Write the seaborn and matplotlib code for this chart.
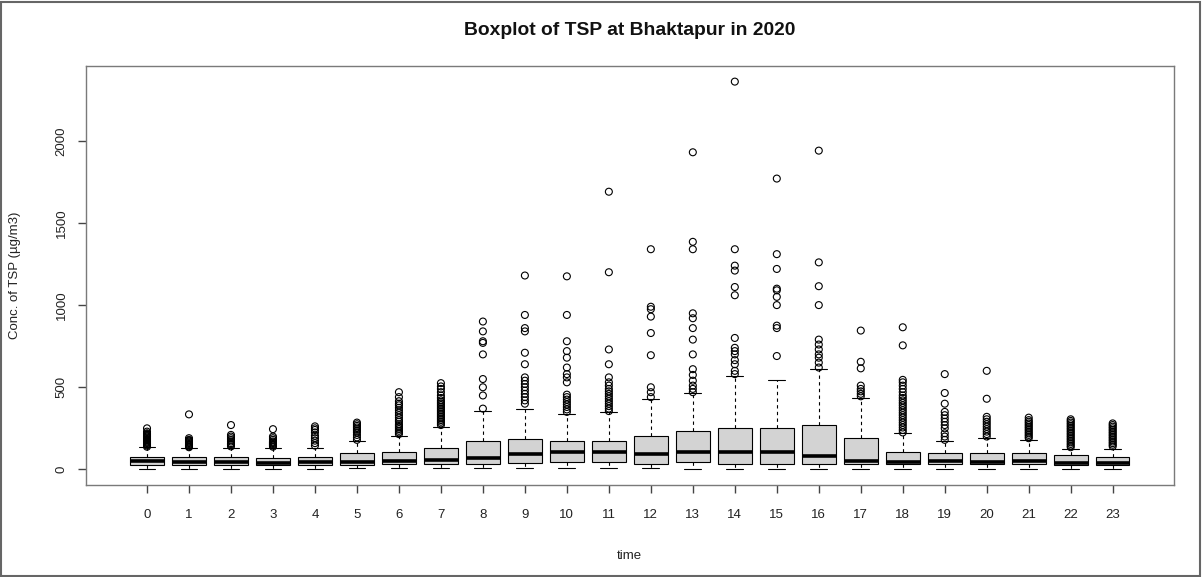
import pandas as pd
import numpy as np
import matplotlib.pyplot as plt
import seaborn as sns
from matplotlib.patches import Rectangle

# hourly TSP summary
hours = [str(h) for h in range(24)]
whisker_low = [5, 5, 5, 5, 5, 8, 8, 8, 8, 8, 8, 8, 8, 3, 5, 5, 5, 5, 5, 5, 5, 5, 3, 3]
q1 = [25, 24, 24, 24, 24, 26, 30, 30, 30, 40, 43, 47, 30, 47, 36, 36, 30, 30, 30, 30, 30, 30, 26, 26]
median = [50, 45, 45, 42, 45, 45, 53, 60, 71, 91, 103, 103, 91, 108, 103, 103, 83, 51, 47, 51, 47, 51, 41, 41]
q3 = [77, 74, 74, 72, 75, 97, 108, 130, 172, 185, 172, 172, 205, 233, 254, 254, 270, 193, 108, 97, 97, 97, 87, 77]
whisker_high = [134, 130, 132, 130, 132, 172, 205, 260, 357, 365, 337, 351, 426, 462, 570, 547, 610, 436, 219, 172, 193, 182, 124, 124]

outliers = [
    [138, 145, 150, 155, 160, 165, 170, 175, 180, 185, 190, 195, 200, 205, 210, 215, 220, 230, 250],
    [135, 140, 145, 150, 155, 160, 165, 170, 175, 180, 190, 335],
    [140, 150, 155, 160, 170, 180, 190, 200, 210, 270],
    [138, 145, 150, 155, 160, 165, 170, 180, 190, 200, 245],
    [145, 160, 175, 190, 205, 225, 240, 250, 262],
    [180, 195, 210, 225, 235, 245, 255, 265, 275, 285],
    [215, 225, 235, 245, 255, 265, 275, 290, 300, 315, 330, 345, 360, 375, 390, 400, 415, 440, 470],
    [270, 280, 290, 300, 310, 320, 330, 340, 350, 360, 370, 380, 390, 400, 410, 420, 435, 450, 470, 490, 505, 525],
    [370, 450, 500, 550, 700, 770, 780, 840, 900],
    [400, 420, 440, 460, 480, 500, 520, 540, 560, 640, 710, 840, 860, 940, 1180],
    [350, 365, 380, 395, 410, 425, 440, 455, 530, 560, 580, 620, 680, 720, 780, 940, 1175],
    [355, 370, 385, 400, 415, 430, 445, 460, 475, 490, 510, 530, 560, 640, 730, 1200, 1690],
    [440, 470, 500, 695, 830, 930, 975, 990, 1340],
    [470, 490, 510, 540, 575, 610, 700, 790, 860, 920, 950, 1340, 1385, 1930],
    [580, 600, 640, 665, 700, 720, 740, 800, 1060, 1110, 1210, 1240, 1340, 2360],
    [690, 860, 875, 1000, 1050, 1090, 1100, 1220, 1310, 1770],
    [620, 650, 680, 700, 730, 760, 790, 1000, 1115, 1260, 1940],
    [445, 460, 475, 490, 510, 615, 655, 845],
    [225, 240, 255, 270, 285, 300, 315, 330, 345, 360, 375, 390, 405, 420, 435, 450, 470, 490, 510, 530, 545, 755, 865],
    [180, 200, 220, 250, 270, 290, 310, 330, 350, 400, 465, 580],
    [200, 215, 230, 245, 260, 275, 290, 305, 320, 430, 600],
    [190, 200, 210, 220, 230, 240, 250, 260, 270, 280, 290, 300, 315],
    [135, 145, 155, 165, 175, 185, 195, 205, 215, 225, 235, 245, 255, 265, 275, 285, 295, 305],
    [140, 150, 160, 170, 180, 190, 200, 210, 220, 230, 240, 250, 260, 270, 280],
]

# five points per hour: with whis=(0, 100) the box and whiskers land exactly on them
box_rows = []
for i, h in enumerate(hours):
    for v in (whisker_low[i], q1[i], median[i], q3[i], whisker_high[i]):
        box_rows.append({'time': h, 'conc': v})
box_df = pd.DataFrame(box_rows)

out_df = pd.DataFrame([{'time': h, 'conc': v} for h, vals in zip(hours, outliers) for v in vals])

sns.set_style('ticks')
plt.rcParams['font.family'] = ['Liberation Sans', 'DejaVu Sans']

fig = plt.figure(figsize=(12.02, 5.77), dpi=100)
ax = fig.add_axes([0.0713, 0.1594, 0.9054, 0.7262])

sns.boxplot(data=box_df, x='time', y='conc', order=hours, whis=(0, 100),
            width=0.8, color='#d3d3d3', saturation=1, linecolor='black',
            linewidth=0.8, showfliers=False,
            medianprops={'linewidth': 2.6, 'color': 'black'},
            whiskerprops={'linestyle': (0, (3, 3))},
            ax=ax)
sns.stripplot(data=out_df, x='time', y='conc', order=hours, jitter=False,
              size=5, facecolors='none', edgecolor='black', linewidth=0.8,
              ax=ax)

ax.set_xlim(-1.46, 24.46)
ax.set_ylim(-95, 2455)
ax.set_yticks([0, 500, 1000, 1500, 2000])
ax.set_yticklabels(['0', '500', '1000', '1500', '2000'], rotation=90, va='center')

for s in ax.spines.values():
    s.set_visible(True)
    s.set_color('#7a7a7a')
    s.set_linewidth(1.0)
ax.xaxis.set_tick_params(which='major', bottom=True, length=6, width=1.0,
                         color='#444444', pad=11)
ax.yaxis.set_tick_params(which='major', left=True, length=6, width=1.0,
                         color='#444444', pad=7)
ax.tick_params(axis='both', direction='out', labelsize=9.5, labelcolor='#222222')

ax.set_xlabel('time', fontsize=9.5, color='#222222')
ax.set_ylabel('Conc. of TSP (µg/m3)', fontsize=9.5, color='#222222')
ax.xaxis.set_label_coords(0.5, -0.155)
ax.yaxis.set_label_coords(-0.059, 0.5)

fig.text(0.5236, 0.948, 'Boxplot of TSP at Bhaktapur in 2020', ha='center', va='center',
         fontsize=13.9, fontweight='bold', color='#111111')

fig.patches.append(Rectangle((0.001, 0.002), 0.997, 0.995, transform=fig.transFigure,
                             fill=False, edgecolor='#666666', linewidth=1.5))

fig.savefig('out.png', dpi=100)
